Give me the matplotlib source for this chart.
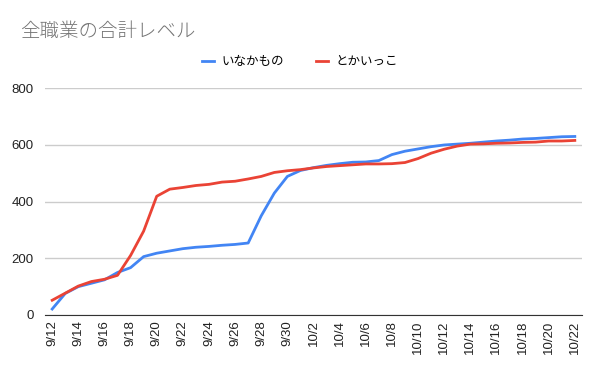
import matplotlib.pyplot as plt
import numpy as np

plt.rcParams['font.family'] = ['Noto Sans CJK JP', 'DejaVu Sans']

# dates 9/12 .. 10/22
dates = [f'9/{d}' for d in range(12, 31)] + [f'10/{d}' for d in range(1, 23)]

inaka = [21, 76, 100, 112, 124, 150, 167, 206, 218, 226, 234, 239, 242, 246, 249, 254,
         350, 430, 489, 510, 520, 528, 534, 539, 540, 545, 566, 578, 586, 594, 600,
         603, 606, 610, 614, 617, 621, 623, 626, 629, 630]
tokai = [52, 77, 102, 118, 126, 140, 210, 296, 419, 444, 450, 457, 461, 469, 472, 480,
         489, 503, 509, 513, 519, 524, 527, 530, 533, 533, 534, 538, 552, 571, 585,
         596, 603, 604, 606, 607, 609, 610, 614, 614, 616]

x = np.arange(len(dates))

fig = plt.figure(figsize=(6, 3.71), dpi=100)
ax = fig.add_axes([0.075, 0.151, 0.895, 0.611])

ax.plot(x, inaka, color='#4285F4', lw=2, label='いなかもの')
ax.plot(x, tokai, color='#EA4335', lw=2, label='とかいっこ')

ax.set_ylim(0, 800)
ax.set_yticks([0, 200, 400, 600, 800])
ax.set_xlim(-0.55, len(dates) - 0.45)
ax.set_xticks(x[::2])
ax.set_xticklabels(dates[::2], rotation=90, family=['Liberation Sans', 'DejaVu Sans'])
for lab in ax.get_yticklabels():
    lab.set_family(['Liberation Sans', 'DejaVu Sans'])
ax.tick_params(axis='both', labelsize=9.5, colors='#222222', length=0)
ax.tick_params(axis='x', pad=4)
ax.tick_params(axis='y', pad=8)
ax.grid(axis='y', color='#cccccc', lw=1)
ax.set_axisbelow(True)
for s in ['top', 'right', 'left']:
    ax.spines[s].set_visible(False)
ax.spines['bottom'].set_color('#333333')

fig.text(0.033, 0.915, '全職業の合計レベル', fontsize=14, color='#757575', va='center',
         fontweight='light')
fig.legend(loc='center', bbox_to_anchor=(0.5, 0.835), ncol=2, frameon=False,
           fontsize=9, handlelength=1.0, handleheight=0.4, columnspacing=2.5,
           handletextpad=0.6)

fig.savefig('out.png', dpi=100)
